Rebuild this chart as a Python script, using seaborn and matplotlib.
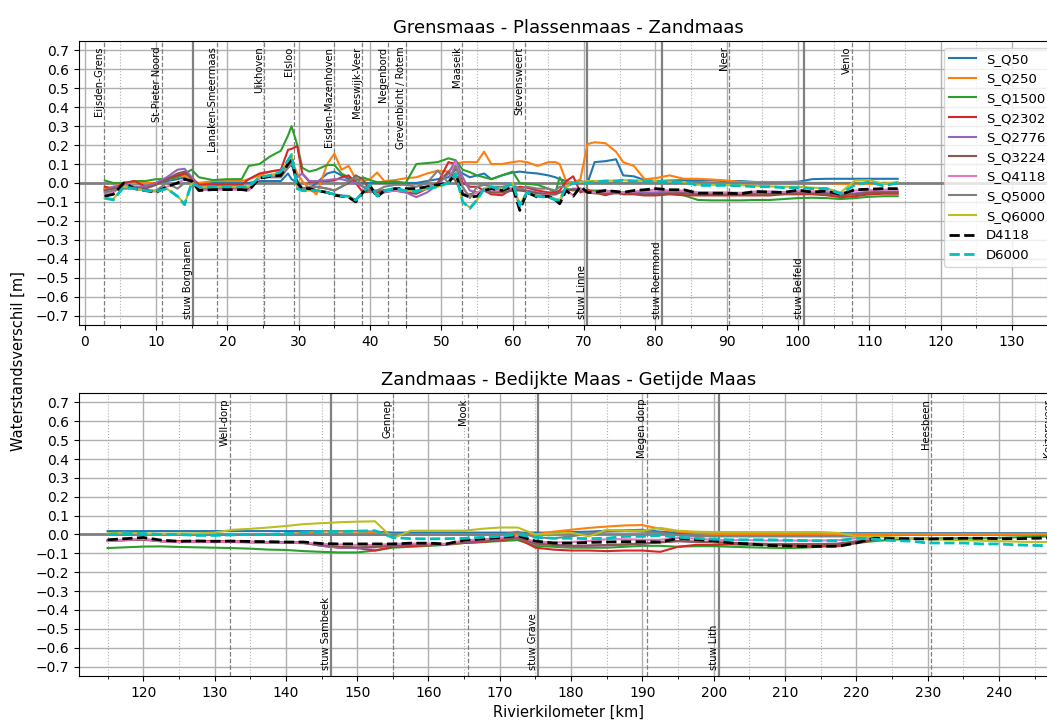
import numpy as np
import matplotlib

matplotlib.use("Agg")
import matplotlib.pyplot as plt
from matplotlib.ticker import MultipleLocator
import seaborn as sns

nan = np.nan

# ---- river km, upper panel (Grensmaas - Plassenmaas - Zandmaas)
KM_TOP = [2.8, 4, 5.5, 7, 8.5, 10, 11.5, 13, 14, 15,
          16, 18, 20, 22, 23, 24.5, 26, 27.5, 28.5, 29,
          29.8, 30.5, 31.5, 32.5, 34, 35, 36, 37, 38, 39,
          40, 41, 42, 43.5, 45, 46.5, 48, 49.5, 51, 52,
          53, 54, 55, 56, 57, 58.5, 60, 61, 62, 63.5,
          65, 66, 66.6, 67.5, 68.5, 69.5, 70.5, 71.5, 73, 74.5,
          75.5, 77, 78.5, 80, 82, 84, 86, 88, 90, 92,
          94, 96, 98, 100, 102, 104, 106, 108, 110, 112,
          114]

S_Q50_TOP = [-0.03, -0.03, -0.01, -0.02, -0.02, 0.0, 0.01, 0.02, 0.03, 0.0,
             -0.01, 0.0, 0.0, 0.0, 0.0, 0.01, 0.01, 0.01, 0.05, 0.02,
             0.0, -0.03, -0.03, 0.0, 0.05, 0.06, 0.04, 0.02, 0.0, 0.0,
             0.0, 0.0, 0.0, 0.0, 0.0, 0.0, 0.01, 0.02, 0.03, 0.07,
             0.05, 0.03, 0.04, 0.05, 0.02, 0.04, 0.055, 0.06, 0.055, 0.05,
             0.04, 0.03, 0.02, 0.01, 0.0, 0.01, 0.0, 0.11, 0.115, 0.125,
             0.04, 0.035, 0.015, 0.01, 0.013, 0.015, 0.013, 0.013, 0.01, 0.01,
             0.005, 0.005, 0.005, 0.006, 0.02, 0.022, 0.022, 0.022, 0.022, 0.022,
             0.022]
S_Q250_TOP = [-0.03, -0.02, 0.0, 0.0, 0.0, 0.0, 0.02, 0.03, 0.04, 0.01,
              0.0, 0.01, 0.01, 0.01, 0.02, 0.04, 0.06, 0.07, 0.11, 0.12,
              0.05, 0.01, -0.03, -0.06, 0.1, 0.155, 0.07, 0.09, 0.02, 0.01,
              0.02, 0.055, 0.01, 0.015, 0.025, 0.03, 0.05, 0.065, 0.06, 0.1,
              0.11, 0.11, 0.11, 0.165, 0.1, 0.1, 0.11, 0.115, 0.11, 0.09,
              0.11, 0.11, 0.1, 0.01, 0.0, 0.02, 0.205, 0.215, 0.21, 0.165,
              0.11, 0.09, 0.02, 0.025, 0.04, 0.022, 0.022, 0.018, 0.013, 0.005,
              0.004, 0.004, 0.004, 0.004, 0.0, 0.0, -0.005, -0.005, -0.005, 0.0,
              0.0]
S_Q1500_TOP = [0.013, 0.0, 0.0, 0.01, 0.01, 0.02, 0.02, 0.03, 0.05, 0.07,
               0.03, 0.015, 0.02, 0.02, 0.09, 0.1, 0.14, 0.17, 0.25, 0.30,
               0.2, 0.08, 0.06, 0.07, 0.095, 0.095, 0.05, 0.03, 0.01, 0.03,
               0.015, 0.005, 0.005, 0.008, 0.0, 0.1, 0.105, 0.11, 0.13, 0.12,
               0.07, 0.057, 0.04, 0.03, 0.02, 0.04, 0.06, 0.0, -0.005, -0.01,
               -0.03, -0.05, 0.03, -0.03, -0.04, -0.03, -0.04, -0.04, -0.04, -0.05,
               -0.05, -0.05, -0.05, -0.055, -0.055, -0.065, -0.09, -0.092, -0.092, -0.092,
               -0.09, -0.09, -0.085, -0.08, -0.078, -0.08, -0.085, -0.08, -0.073, -0.07,
               -0.07]
S_Q2302_TOP = [-0.02, -0.03, 0.0, 0.01, -0.02, 0.0, 0.02, 0.04, 0.05, 0.03,
               -0.01, -0.01, -0.01, -0.01, 0.02, 0.05, 0.06, 0.07, 0.175, 0.18,
               0.195, 0.05, 0.005, 0.008, 0.01, 0.013, 0.03, 0.04, 0.0, -0.05,
               -0.045, -0.05, -0.045, -0.04, -0.05, -0.057, -0.03, 0.0, 0.11, 0.1,
               0.0, -0.02, -0.02, -0.04, -0.06, -0.065, -0.03, -0.02, -0.025, -0.04,
               -0.05, -0.05, -0.04, 0.01, 0.035, -0.05, -0.035, -0.05, -0.065, -0.05,
               -0.06, -0.06, -0.066, -0.066, -0.06, -0.065, -0.066, -0.066, -0.066, -0.066,
               -0.066, -0.066, -0.06, -0.06, -0.06, -0.065, -0.075, -0.07, -0.06, -0.057,
               -0.057]
S_Q2776_TOP = [-0.04, -0.02, -0.02, -0.02, -0.02, 0.0, 0.03, 0.07, 0.075, 0.03,
               -0.03, -0.03, -0.03, -0.03, -0.035, 0.03, 0.04, 0.05, 0.08, 0.1,
               0.03, 0.05, 0.01, 0.01, 0.015, 0.02, 0.02, 0.01, 0.0, -0.02,
               -0.02, -0.065, -0.05, -0.04, -0.05, -0.075, -0.05, -0.01, 0.05, 0.12,
               0.03, -0.04, -0.05, -0.04, -0.05, -0.05, -0.04, -0.03, -0.04, -0.05,
               -0.06, -0.06, -0.05, -0.04, -0.03, -0.03, -0.05, -0.05, -0.045, -0.045,
               -0.05, -0.05, -0.05, -0.05, -0.045, -0.05, -0.055, -0.055, -0.055, -0.055,
               -0.055, -0.055, -0.05, -0.048, -0.05, -0.05, -0.06, -0.055, -0.045, -0.045,
               -0.045]
S_Q3224_TOP = [-0.04, -0.03, -0.02, -0.03, -0.03, -0.01, 0.02, 0.05, 0.06, 0.02,
               -0.04, -0.03, -0.03, -0.035, -0.03, 0.03, 0.035, 0.045, 0.1, 0.12,
               -0.02, -0.03, -0.02, -0.02, -0.03, -0.04, -0.02, 0.0, 0.04, 0.02,
               -0.04, -0.04, -0.04, -0.035, -0.04, -0.045, -0.03, 0.0, 0.06, 0.01,
               -0.06, -0.06, -0.05, -0.04, -0.05, -0.05, -0.04, -0.04, -0.045, -0.055,
               -0.06, -0.06, -0.05, -0.04, -0.035, -0.04, -0.05, -0.055, -0.055, -0.055,
               -0.055, -0.055, -0.06, -0.06, -0.055, -0.055, -0.06, -0.06, -0.06, -0.062,
               -0.062, -0.06, -0.058, -0.055, -0.055, -0.058, -0.065, -0.06, -0.052, -0.05,
               -0.05]
S_Q4118_TOP = [-0.06, -0.05, -0.01, -0.03, -0.04, -0.045, -0.02, 0.0, 0.02, 0.01,
               -0.035, -0.035, -0.035, -0.035, -0.04, 0.025, 0.035, 0.04, 0.09, 0.11,
               -0.01, -0.03, -0.03, -0.04, -0.05, -0.06, -0.065, -0.07, -0.09, -0.05,
               -0.02, -0.07, -0.045, -0.04, -0.04, -0.04, -0.025, -0.01, 0.0, 0.11,
               -0.03, -0.07, -0.05, -0.04, -0.035, -0.04, -0.025, -0.12, -0.05, -0.07,
               -0.065, -0.085, -0.1, -0.04, -0.065, -0.03, -0.05, -0.05, -0.045, -0.045,
               -0.05, -0.045, -0.04, -0.035, -0.04, -0.04, -0.05, -0.05, -0.05, -0.052,
               -0.045, -0.045, -0.048, -0.04, -0.045, -0.043, -0.055, -0.04, -0.038, -0.035,
               -0.035]
S_Q5000_TOP = [-0.05, -0.04, -0.03, -0.03, -0.04, -0.04, 0.0, -0.03, 0.0, 0.0,
               -0.03, -0.03, -0.02, -0.02, -0.02, 0.03, 0.03, 0.03, 0.08, 0.1,
               0.01, -0.03, -0.02, -0.02, -0.03, -0.04, -0.02, 0.01, 0.03, -0.02,
               -0.05, -0.04, -0.02, -0.01, -0.01, -0.02, 0.0, 0.065, 0.0, 0.09,
               -0.02, -0.08, -0.02, -0.01, -0.02, -0.02, -0.01, -0.03, -0.02, -0.03,
               -0.03, -0.04, -0.02, -0.02, 0.0, 0.0, 0.0, 0.0, 0.0, 0.0,
               0.0, 0.0, 0.0, 0.0, 0.005, 0.005, 0.005, 0.0, 0.0, 0.0,
               0.0, 0.0, 0.0, 0.0, 0.0, 0.0, 0.0, 0.0, 0.0, 0.0,
               0.0]
S_Q6000_TOP = [-0.08, -0.085, -0.02, -0.03, -0.04, -0.045, -0.03, -0.07, -0.11, 0.0,
               -0.02, -0.02, -0.02, -0.02, -0.02, 0.03, 0.04, 0.06, 0.12, 0.15,
               -0.03, -0.04, -0.04, -0.04, -0.05, -0.06, -0.07, -0.07, -0.09, -0.05,
               -0.01, -0.07, -0.04, -0.03, -0.04, -0.045, -0.03, -0.02, 0.0, 0.05,
               -0.1, -0.13, -0.09, -0.03, -0.02, -0.035, 0.0, -0.115, -0.05, -0.07,
               -0.075, -0.085, -0.09, -0.02, 0.0, 0.005, 0.01, 0.01, 0.012, 0.012,
               0.015, 0.012, 0.012, 0.01, 0.008, 0.005, -0.01, -0.01, -0.01, -0.012,
               -0.015, -0.018, -0.02, -0.02, -0.025, -0.028, -0.05, 0.013, 0.015, -0.005,
               0.005]
D4118_TOP = [-0.07, -0.06, 0.0, -0.03, -0.04, -0.05, -0.02, 0.0, 0.02, 0.01,
             -0.04, -0.035, -0.035, -0.035, -0.04, 0.025, 0.035, 0.04, 0.1, 0.12,
             0.0, -0.03, -0.03, -0.04, -0.05, -0.065, -0.07, -0.075, -0.1, -0.05,
             -0.015, -0.075, -0.04, -0.03, -0.03, -0.03, -0.02, -0.01, 0.0, 0.05,
             -0.06, -0.075, -0.07, -0.04, -0.03, -0.04, -0.02, -0.145, -0.05, -0.075,
             -0.07, -0.09, -0.11, -0.04, -0.07, -0.02, -0.05, -0.05, -0.04, -0.045,
             -0.05, -0.04, -0.036, -0.03, -0.036, -0.036, -0.054, -0.054, -0.054, -0.057,
             -0.045, -0.048, -0.05, -0.038, -0.048, -0.043, -0.06, -0.036, -0.033, -0.03,
             -0.03]
D6000_TOP = [-0.08, -0.09, -0.02, -0.03, -0.04, -0.045, -0.03, -0.07, -0.115, 0.0,
             -0.02, -0.02, -0.02, -0.02, -0.02, 0.03, 0.04, 0.06, 0.12, 0.15,
             -0.03, -0.04, -0.04, -0.04, -0.05, -0.06, -0.07, -0.07, -0.09, -0.05,
             -0.01, -0.07, -0.04, -0.03, -0.04, -0.045, -0.03, -0.02, 0.0, 0.05,
             -0.1, -0.135, -0.09, -0.03, -0.02, -0.035, 0.0, -0.12, -0.05, -0.07,
             -0.075, -0.09, -0.09, -0.02, 0.0, 0.0, 0.0, 0.005, 0.01, 0.01,
             0.015, 0.01, 0.01, 0.01, 0.005, 0.005, -0.013, -0.013, -0.013, -0.015,
             -0.02, -0.02, -0.025, -0.025, -0.03, -0.03, -0.057, -0.01, 0.005, -0.015,
             0.0]

# ---- river km, lower panel (Zandmaas - Bedijkte Maas - Getijde Maas)
KM_BOT = [115, 117.5, 120, 122.5, 125, 127.5, 130, 132.5, 135, 137.5,
          140, 142.5, 145, 147.5, 150, 152.5, 155, 157.5, 160, 162.5,
          165, 167.5, 170, 172.5, 175, 177.5, 180, 182.5, 185, 187.5,
          190, 192.5, 195, 197.5, 200, 202.5, 205, 207.5, 210, 212.5,
          215, 217.5, 220, 222.5, 225, 227.5, 230, 232.5, 235, 237.5,
          240, 242.5, 245, 247.5]

S_Q50_BOT = [0.018, 0.018, 0.018, 0.018, 0.018, 0.018, 0.018, 0.018, 0.018, 0.018,
             0.018, 0.018, 0.018, 0.018, 0.018, 0.015, 0.01, 0.01, 0.01, 0.01,
             0.01, 0.01, 0.01, 0.01, 0.01, 0.01, 0.013, 0.015, 0.02, 0.022,
             0.025, 0.015, 0.008, 0.007, 0.007, 0.007, 0.007, 0.007, 0.007, 0.007,
             0.007, 0.007, 0.007, 0.007, 0.007, 0.007, 0.007, 0.007, 0.007, 0.007,
             0.007, 0.007, 0.007, 0.007]
S_Q250_BOT = [0.0, 0.0, 0.0, 0.0, 0.0, 0.0, 0.0, 0.0, 0.0, 0.0,
              0.0, 0.01, 0.016, 0.016, 0.015, 0.012, 0.0, 0.0, 0.0, 0.0,
              0.0, 0.0, 0.0, 0.0, 0.0, 0.015, 0.025, 0.035, 0.042, 0.048,
              0.05, 0.03, 0.015, 0.008, 0.003, 0.003, 0.003, 0.003, 0.003, 0.003,
              0.003, 0.003, 0.003, 0.003, 0.003, 0.003, 0.003, 0.003, 0.003, 0.003,
              0.003, 0.003, 0.003, 0.003]
S_Q1500_BOT = [-0.072, -0.068, -0.064, -0.063, -0.066, -0.068, -0.07, -0.072, -0.075, -0.08,
               -0.082, -0.088, -0.092, -0.095, -0.095, -0.085, -0.07, -0.065, -0.06, -0.055,
               -0.045, -0.04, -0.035, -0.03, -0.06, -0.065, -0.07, -0.07, -0.07, -0.065,
               -0.06, -0.06, -0.065, -0.062, -0.062, -0.065, -0.068, -0.07, -0.072, -0.07,
               -0.065, -0.055, -0.045, -0.035, -0.028, -0.022, -0.02, -0.02, -0.02, -0.02,
               -0.018, -0.015, -0.012, -0.01]
S_Q2302_BOT = [-0.035, -0.03, -0.025, -0.035, -0.035, -0.035, -0.035, -0.035, -0.038, -0.04,
               -0.04, -0.042, -0.06, -0.07, -0.072, -0.085, -0.065, -0.062, -0.058, -0.05,
               -0.045, -0.04, -0.03, -0.02, -0.07, -0.08, -0.085, -0.085, -0.088, -0.085,
               -0.085, -0.092, -0.065, -0.055, -0.055, -0.052, -0.055, -0.055, -0.058, -0.062,
               -0.062, -0.062, -0.045, -0.03, nan, nan, nan, nan, nan, nan,
               nan, nan, nan, nan]
S_Q2776_BOT = [-0.03, -0.028, -0.025, -0.035, -0.04, -0.038, -0.04, -0.038, -0.04, -0.042,
               -0.042, -0.045, -0.06, -0.07, -0.072, -0.068, -0.06, -0.055, -0.055, -0.05,
               -0.04, -0.035, -0.025, -0.018, -0.05, -0.055, -0.063, -0.06, -0.058, -0.055,
               -0.05, -0.04, -0.035, -0.04, -0.042, -0.045, -0.05, -0.05, -0.05, -0.05,
               -0.05, -0.048, -0.035, -0.03, nan, nan, nan, nan, nan, nan,
               nan, nan, nan, nan]
S_Q3224_BOT = [-0.032, -0.03, -0.028, -0.036, -0.04, -0.04, -0.04, -0.04, -0.042, -0.043,
               -0.044, -0.046, -0.055, -0.065, -0.068, -0.065, -0.058, -0.055, -0.053, -0.05,
               -0.038, -0.032, -0.024, -0.016, -0.048, -0.055, -0.06, -0.058, -0.056, -0.052,
               -0.048, -0.042, -0.035, -0.038, -0.04, -0.045, -0.048, -0.05, -0.052, -0.052,
               -0.052, -0.05, -0.038, -0.03, nan, nan, nan, nan, nan, nan,
               nan, nan, nan, nan]
S_Q4118_BOT = [-0.034, -0.028, -0.024, -0.036, -0.04, -0.038, -0.04, -0.038, -0.04, -0.042,
               -0.043, -0.044, -0.05, -0.053, -0.055, -0.055, -0.05, -0.048, -0.048, -0.05,
               -0.032, -0.026, -0.018, -0.008, -0.038, -0.042, -0.04, -0.035, -0.025, -0.025,
               -0.028, -0.028, -0.018, -0.022, -0.028, -0.03, -0.03, -0.032, -0.032, -0.032,
               -0.032, -0.03, -0.02, -0.02, nan, nan, nan, nan, nan, nan,
               nan, nan, nan, nan]
S_Q5000_BOT = [-0.002, -0.002, -0.002, -0.002, -0.002, -0.002, -0.002, -0.002, -0.002, -0.002,
               -0.002, -0.002, -0.002, -0.002, -0.002, -0.002, -0.002, -0.002, -0.002, -0.002,
               -0.002, -0.002, -0.002, 0.015, -0.015, -0.02, -0.01, 0.005, 0.015, 0.017,
               0.015, 0.01, -0.005, -0.008, -0.01, -0.01, -0.01, -0.01, -0.01, -0.01,
               -0.01, -0.01, -0.01, -0.01, nan, nan, nan, nan, nan, nan,
               nan, nan, nan, nan]
S_Q6000_BOT = [0.007, 0.01, 0.005, 0.004, 0.005, 0.006, 0.01, 0.025, 0.03, 0.037,
               0.045, 0.055, 0.06, 0.065, 0.068, 0.07, -0.02, 0.02, 0.02, 0.02,
               0.02, 0.03, 0.037, 0.037, 0.0, 0.005, 0.01, -0.01, 0.025, 0.02,
               0.02, 0.035, 0.02, 0.015, 0.013, 0.013, 0.013, 0.013, 0.013, 0.013,
               0.013, 0.008, -0.01, -0.01, -0.015, -0.02, -0.025, -0.028, -0.03, -0.033,
               -0.035, -0.038, -0.04, -0.04]
D4118_BOT = [-0.028, -0.022, -0.016, -0.03, -0.036, -0.034, -0.036, -0.035, -0.037, -0.038,
             -0.04, -0.04, -0.048, -0.05, -0.05, -0.05, -0.05, -0.046, -0.046, -0.05,
             -0.03, -0.024, -0.016, -0.006, -0.035, -0.045, -0.046, -0.042, -0.04, -0.038,
             -0.038, -0.04, -0.02, -0.027, -0.033, -0.045, -0.05, -0.058, -0.06, -0.063,
             -0.063, -0.062, -0.045, -0.02, -0.022, -0.022, -0.024, -0.022, -0.02, -0.02,
             -0.022, -0.022, -0.02, -0.018]
D6000_BOT = [0.0, 0.005, 0.005, 0.0, 0.0, -0.005, -0.005, -0.002, 0.0, 0.0,
             0.005, 0.01, 0.016, 0.016, 0.018, 0.02, -0.016, -0.022, -0.023, -0.022,
             -0.02, -0.015, -0.01, 0.0, -0.015, -0.02, -0.02, -0.022, -0.02, -0.01,
             -0.01, -0.005, -0.015, -0.02, -0.025, -0.028, -0.028, -0.028, -0.03, -0.032,
             -0.033, -0.033, -0.02, -0.025, -0.032, -0.035, -0.045, -0.045, -0.045, -0.05,
             -0.05, -0.055, -0.058, -0.06]

SERIES = ["S_Q50", "S_Q250", "S_Q1500", "S_Q2302", "S_Q2776", "S_Q3224",
          "S_Q4118", "S_Q5000", "S_Q6000", "D4118", "D6000"]
TOP_VALUES = [S_Q50_TOP, S_Q250_TOP, S_Q1500_TOP, S_Q2302_TOP, S_Q2776_TOP, S_Q3224_TOP,
              S_Q4118_TOP, S_Q5000_TOP, S_Q6000_TOP, D4118_TOP, D6000_TOP]
BOT_VALUES = [S_Q50_BOT, S_Q250_BOT, S_Q1500_BOT, S_Q2302_BOT, S_Q2776_BOT, S_Q3224_BOT,
              S_Q4118_BOT, S_Q5000_BOT, S_Q6000_BOT, D4118_BOT, D6000_BOT]

# measuring stations (dashed) and weirs (solid)
STATIONS_TOP = ["Eijsden-Grens", "St-Pieter Noord", "Lanaken-Smeermaas", "Uikhoven", "Elsloo",
                "Eisden-Mazenhoven", "Meeswijk-Veer", "Negenbord", "Grevenbicht / Rotem",
                "Maaseik", "Stevensweert", "Neer", "Venlo"]
STATIONS_TOP_KM = [2.7, 10.8, 18.5, 25.2, 29.3, 35.0, 38.9, 42.5, 45.0, 52.9, 61.7, 90.3, 107.6]
WEIRS_TOP = ["stuw Borgharen", "stuw Linne", "stuw Roermond", "stuw Belfeld"]
WEIRS_TOP_KM = [15.2, 70.4, 80.9, 100.8]
STATIONS_BOT = ["Well-dorp", "Gennep", "Mook", "Megen dorp", "Heesbeen", "Keizersveer"]
STATIONS_BOT_KM = [132.1, 155.0, 165.6, 190.7, 230.4, 247.6]
WEIRS_BOT = ["stuw Sambeek", "stuw Grave", "stuw Lith"]
WEIRS_BOT_KM = [146.4, 175.4, 200.8]

for v in TOP_VALUES:
    assert len(v) == len(KM_TOP), len(v)
for v in BOT_VALUES:
    assert len(v) == len(KM_BOT), len(v)

tab = sns.color_palette("tab10")
STYLE = {
    "S_Q50": (tab[0], "-", 1.5), "S_Q250": (tab[1], "-", 1.5), "S_Q1500": (tab[2], "-", 1.5),
    "S_Q2302": (tab[3], "-", 1.5), "S_Q2776": (tab[4], "-", 1.5), "S_Q3224": (tab[5], "-", 1.5),
    "S_Q4118": (tab[6], "-", 1.5), "S_Q5000": (tab[7], "-", 1.5), "S_Q6000": (tab[8], "-", 1.5),
    "D4118": ("k", "--", 2.0), "D6000": ("c", "--", 2.0),
}


def draw_panel(ax, km, values, stations, stations_km, weirs, weirs_km, title, xlim):
    ax.set_xlim(*xlim)
    ax.set_ylim(-0.75, 0.75)
    ax.xaxis.set_major_locator(MultipleLocator(10))
    ax.xaxis.set_minor_locator(MultipleLocator(5))
    ax.yaxis.set_major_locator(MultipleLocator(0.1))
    ax.grid(which="major", color="#b0b0b0", lw=1.0)
    ax.grid(which="minor", axis="x", color="#b0b0b0", lw=0.8, ls=":")
    ax.set_axisbelow(True)

    for name, x in zip(stations, stations_km):
        ax.axvline(x, color="gray", ls="--", lw=0.9)
        ax.text(x, 0.98, name, rotation=90, ha="right", va="top", fontsize=7.2,
                transform=ax.get_xaxis_transform())
    for name, x in zip(weirs, weirs_km):
        ax.axvline(x, color="gray", ls="-", lw=1.6)
        ax.text(x, 0.02, name, rotation=90, ha="right", va="bottom", fontsize=7.2,
                transform=ax.get_xaxis_transform())

    ax.axhline(0, color="gray", lw=2)

    for name, vals in zip(SERIES, values):
        color, ls, lw = STYLE[name]
        sns.lineplot(x=km, y=vals, color=color, linestyle=ls, lw=lw, label=name,
                     legend=False, ax=ax)
    ax.set_title(title, fontsize=13)


fig = plt.figure(figsize=(10.47, 7.22), dpi=100)
ax1 = fig.add_axes([0.0755, 0.5499, 0.9345, 0.3934])
ax2 = fig.add_axes([0.0755, 0.0637, 0.9345, 0.392])

draw_panel(ax1, KM_TOP, TOP_VALUES, STATIONS_TOP, STATIONS_TOP_KM, WEIRS_TOP, WEIRS_TOP_KM,
           "Grensmaas - Plassenmaas - Zandmaas", (-0.8, 136.4))
draw_panel(ax2, KM_BOT, BOT_VALUES, STATIONS_BOT, STATIONS_BOT_KM, WEIRS_BOT, WEIRS_BOT_KM,
           "Zandmaas - Bedijkte Maas - Getijde Maas", (111.0, 248.2))

ax1.legend(loc="upper right", fontsize=9.5)
ax2.set_xlabel("Rivierkilometer [km]", fontsize=10.5)
fig.text(0.017, 0.5, "Waterstandsverschil [m]", rotation=90, ha="center", va="center",
         fontsize=10.5)

fig.savefig("out.png", dpi=100)
